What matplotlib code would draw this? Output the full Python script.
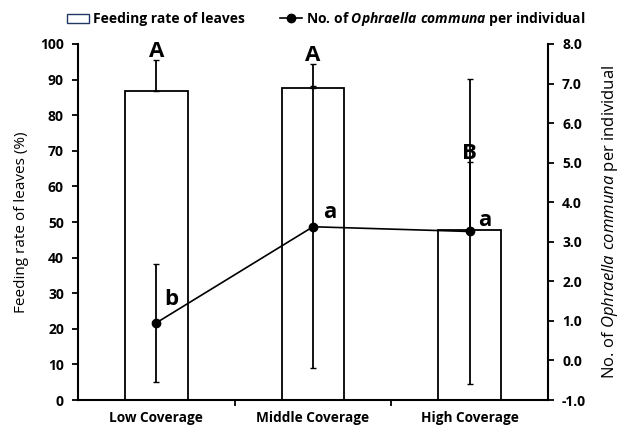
import matplotlib
matplotlib.use("Agg")
import matplotlib.pyplot as plt
from matplotlib.patches import Patch
from matplotlib.lines import Line2D
import numpy as np

plt.rcParams['font.family'] = ['Open Sans', 'DejaVu Sans']
plt.rcParams['mathtext.fontset'] = 'custom'
plt.rcParams['mathtext.it'] = 'Open Sans:italic'
plt.rcParams['mathtext.rm'] = 'Open Sans'
plt.rcParams['mathtext.bf'] = 'Open Sans:bold'
plt.rcParams['mathtext.bfit'] = 'Open Sans:italic:bold'

categories = ["Low Coverage", "Middle Coverage", "High Coverage"]
feeding_rate = [86.8, 87.7, 47.8]
feeding_err = [8.8, 6.7, 19.0]
feeding_letters = ["A", "A", "B"]
beetles = [0.95, 3.38, 3.26]
beetles_err = [1.5, 3.57, 3.85]
beetle_letters = ["b", "a", "a"]
left_ticks = [0, 10, 20, 30, 40, 50, 60, 70, 80, 90, 100]
right_ticks = [-1.0, 0.0, 1.0, 2.0, 3.0, 4.0, 5.0, 6.0, 7.0, 8.0]

fig = plt.figure(figsize=(6.33, 4.28), dpi=100)
ax = fig.add_axes([0.123, 0.0654, 0.743, 0.8318])
x = np.arange(len(categories))

ax.bar(x, feeding_rate, width=0.4, color='white', edgecolor='black', linewidth=1.3, zorder=2)
ax.errorbar(x, feeding_rate, yerr=[np.zeros(3), feeding_err], fmt='none', ecolor='black',
            elinewidth=1.3, capsize=2, capthick=1, zorder=3)
ax.set_xlim(-0.5, 2.5)
ax.set_ylim(0, 100)
ax.set_yticks(left_ticks)
ax.set_yticklabels([str(t) for t in left_ticks], fontweight='bold', fontsize=10)
ax.set_xticks(x)
ax.set_xticklabels(categories, fontweight='bold', fontsize=9.8)
ax.tick_params(axis='x', which='major', length=0, pad=8)
ax.set_xticks([0.5, 1.5], minor=True)
ax.tick_params(axis='x', which='minor', length=4, width=1.3, direction='out')
ax.tick_params(axis='y', length=4, width=1.3, direction='out', pad=6)
ax.spines['top'].set_visible(False)
ax.spines['right'].set_visible(False)
for s in ['left', 'bottom']:
    ax.spines[s].set_linewidth(1.5)
ax.set_ylabel("Feeding rate of leaves (%)", fontsize=11, labelpad=8)

for xi, v, e, lab in zip(x, feeding_rate, feeding_err, feeding_letters):
    ax.annotate(lab, (xi, v + e), xytext=(0, 6), textcoords='offset points',
                ha='center', va='center', fontsize=16, fontweight='bold', zorder=5)

ax2 = ax.twinx()
ax2.errorbar(x, beetles, yerr=beetles_err, fmt='-o', color='black', ms=6, lw=1.2,
             elinewidth=1.3, capsize=2, capthick=1, zorder=4)
ax2.set_ylim(-1.0, 8.0)
ax2.set_yticks(right_ticks)
ax2.set_yticklabels([f"{t:.1f}" for t in right_ticks], fontweight='bold', fontsize=10)
ax2.tick_params(axis='y', length=4, width=1.3, direction='out', pad=6)
ax2.spines['top'].set_visible(False)
ax2.spines['left'].set_visible(False)
ax2.spines['bottom'].set_visible(False)
ax2.spines['right'].set_linewidth(1.5)
ax2.set_ylabel(r"No. of $\mathit{Ophraella\ communa}$ per individual", fontsize=12, labelpad=10)

letter_offsets = [(11, 17), (12, 10), (11, 8)]
for xi, v, lab, off in zip(x, beetles, beetle_letters, letter_offsets):
    ax2.annotate(lab, (xi, v), xytext=off, textcoords='offset points',
                 ha='center', va='center', fontsize=16, fontweight='bold', zorder=5)

handles = [Patch(facecolor='white', edgecolor='#1f3864', linewidth=1.0),
           Line2D([0], [0], color='black', marker='o', ms=6, lw=1.2)]
labels = ["Feeding rate of leaves", r"No. of $\mathbfit{Ophraella\ communa}$ per individual"]
leg = fig.legend(handles, labels, loc='center', bbox_to_anchor=(0.515, 0.955), ncol=2,
                 frameon=False, prop={'weight': 'bold', 'size': 10}, handlelength=1.6,
                 handletextpad=0.3, columnspacing=2.5)

fig.savefig("out.png", dpi=100)
